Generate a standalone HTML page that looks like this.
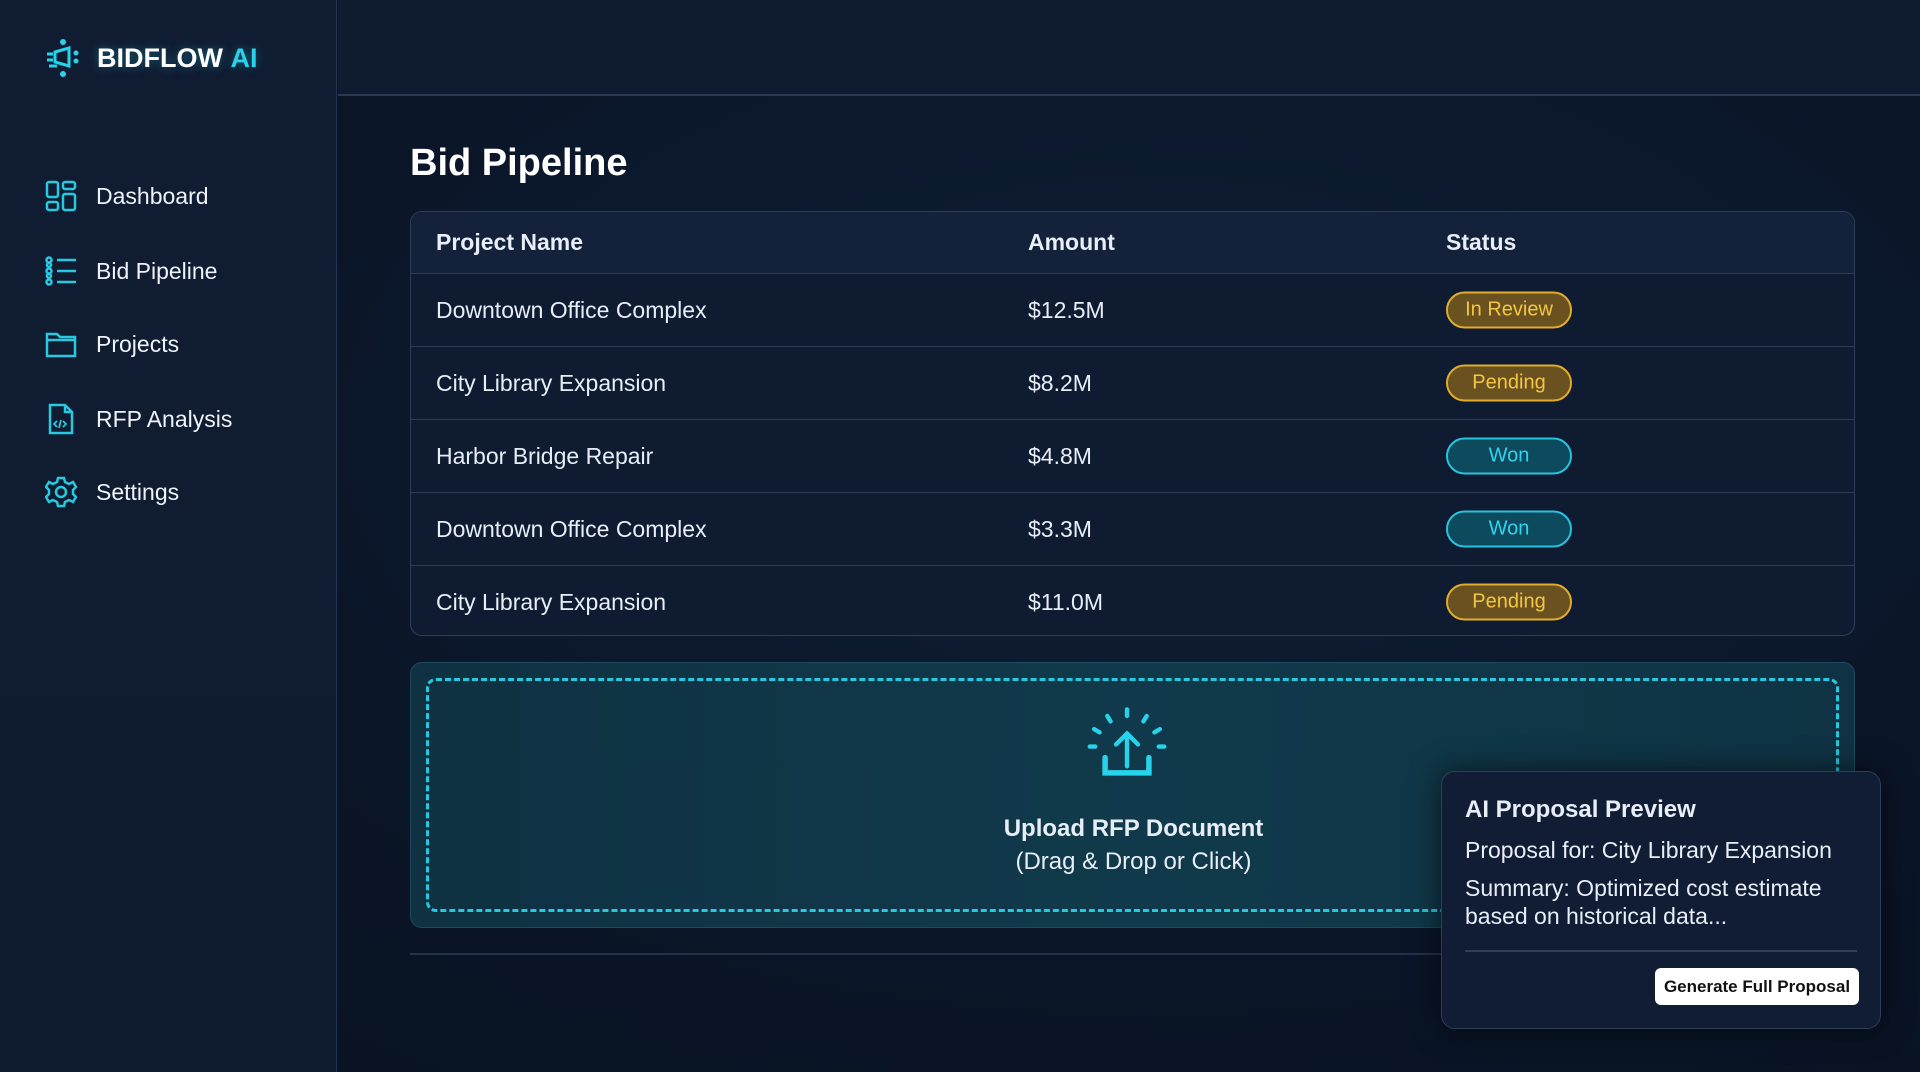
<!DOCTYPE html>
<html><head><meta charset="utf-8"><style>
*{margin:0;padding:0;box-sizing:border-box}
body{width:1920px;height:1072px;overflow:hidden;font-family:"Liberation Sans",sans-serif;color:#e8eef6;background:radial-gradient(ellipse at 60% 40%,#0f1e35 0%,#0a1527 60%,#081222 100%);position:relative}
.side{position:absolute;left:0;top:0;width:337px;height:1072px;background:linear-gradient(180deg,#101c31,#0f1b30);border-right:1px solid #25344d}
.top{position:absolute;left:338px;top:0;right:0;height:96px;background:#0f1b2f;border-bottom:2px solid #2a3a52}
.logo{position:absolute;left:45px;top:38px;display:flex;align-items:center;gap:16px;font-weight:bold;font-size:27px;color:#fff;text-shadow:0 0 10px rgba(40,200,230,.4)}
.logo b{color:#27d3ea}
.nav{position:absolute;left:45px;display:flex;align-items:center;gap:19px;font-size:23px;color:#eef3f9;transform:translateY(-50%)}
.nav svg{width:32px;height:32px}
h1{position:absolute;left:410px;top:142px;font-size:38px;font-weight:bold;color:#fff}
.tbl{position:absolute;left:410px;top:211px;width:1445px;height:425px;border:1.5px solid #2d3d57;border-radius:12px;background:#0e1b31;overflow:hidden}
.row{position:absolute;left:0;right:0;height:73px;border-top:1.5px solid #2c3c55;font-size:23px;display:flex;align-items:center}
.row span{position:absolute}
.hdr{top:0;height:61px;border-top:none;background:#13213a;font-weight:bold}
.c1{left:25px}.c2{left:617px}.c3{left:1035px}
.badge{width:126px;height:37px;border-radius:19px;display:flex;align-items:center;justify-content:center;font-size:20px;top:50%;transform:translateY(-50%)}
.y{background:#6a5220;border:2px solid #e1ac2e;color:#f3c744}
.t{background:#0d4a5e;border:2px solid #27c4de;color:#33d4ec}
.up{position:absolute;left:410px;top:662px;width:1445px;height:266px;border-radius:12px;background:linear-gradient(90deg,#0f3142,#103a4b,#0f3344);border:1.5px solid #1d4a5c}
.dash{position:absolute;left:15px;top:15px;right:15px;bottom:15px;border:3px dashed #27c9e0;border-radius:10px}
.ut{position:absolute;left:0;width:1445px;text-align:center;font-size:24px}
.card{position:absolute;left:1441px;top:771px;width:440px;height:258px;border:1.5px solid #2e3e58;border-radius:14px;background:#111d34;box-shadow:0 0 30px rgba(0,0,0,.6)}
.card p{position:absolute;left:23px;font-size:23px;color:#e8eef6}
.btn{position:absolute;left:213px;top:196px;width:204px;height:37px;background:#fff;border-radius:6px;color:#111;font-weight:bold;font-size:17px;display:flex;align-items:center;justify-content:center}
</style></head><body>
<div class="side">
<div class="logo"><svg width="36" height="40" viewBox="0 0 36 40"><g fill="none" stroke="#27d3ea" stroke-width="3"><path d="M10 14 L24 10 L24 28 L10 24 Z"/><path d="M2 16h6M2 22h6M4 28h8"/></g><circle cx="18" cy="4" r="3" fill="#27d3ea"/><circle cx="18" cy="36" r="3" fill="#27d3ea"/><circle cx="31" cy="15" r="2.5" fill="#27d3ea"/><circle cx="31" cy="23" r="2.5" fill="#27d3ea"/></svg><span>BIDFLOW <b>AI</b></span></div>
<div class="nav" style="top:196px"><svg viewBox="0 0 32 32" fill="none" stroke="#27c9e0" stroke-width="2.5"><rect x="2" y="2" width="11" height="15" rx="2"/><rect x="18" y="2" width="12" height="7" rx="2"/><rect x="2" y="22" width="11" height="8" rx="2"/><rect x="18" y="14" width="12" height="16" rx="2"/></svg>Dashboard</div>
<div class="nav" style="top:271px"><svg viewBox="0 0 32 32" fill="none" stroke="#27c9e0" stroke-width="2.5"><circle cx="4" cy="5" r="2.5"/><circle cx="4" cy="16" r="2.5"/><circle cx="4" cy="27" r="2.5"/><circle cx="4" cy="10" r="2"/><circle cx="4" cy="21" r="2"/><path d="M12 5h19M12 16h19M12 27h19"/></svg>Bid Pipeline</div>
<div class="nav" style="top:344px"><svg viewBox="0 0 32 32" fill="none" stroke="#27c9e0" stroke-width="2.5"><path d="M2 6 h10 l3 3 h15 v19 h-28 z M2 12 h28"/></svg>Projects</div>
<div class="nav" style="top:419px"><svg viewBox="0 0 32 32" fill="none" stroke="#27c9e0" stroke-width="2.5"><path d="M5 2 h15 l7 7 v21 h-22 z M20 2 v7 h7"/><path d="M12 18 l-3 3 3 3 M18 18 l3 3 -3 3 M16 17 l-2 8" stroke-width="1.8"/></svg>RFP Analysis</div>
<div class="nav" style="top:492px"><svg viewBox="0 0 32 32" fill="none" stroke="#27c9e0" stroke-width="2.5"><circle cx="16" cy="16" r="5"/><path d="M13 2h6l1 4 4 2 4-2 3 5-3 3v4l3 3-3 5-4-2-4 2-1 4h-6l-1-4-4-2-4 2-3-5 3-3v-4l-3-3 3-5 4 2 4-2z"/></svg>Settings</div>
</div>
<div class="top"></div>
<h1>Bid Pipeline</h1>
<div class="tbl">
<div class="row hdr"><span class="c1">Project Name</span><span class="c2">Amount</span><span class="c3">Status</span></div>
<div class="row" style="top:61px"><span class="c1">Downtown Office Complex</span><span class="c2">$12.5M</span><span class="c3 badge y">In Review</span></div>
<div class="row" style="top:134px"><span class="c1">City Library Expansion</span><span class="c2">$8.2M</span><span class="c3 badge y">Pending</span></div>
<div class="row" style="top:207px"><span class="c1">Harbor Bridge Repair</span><span class="c2">$4.8M</span><span class="c3 badge t">Won</span></div>
<div class="row" style="top:280px"><span class="c1">Downtown Office Complex</span><span class="c2">$3.3M</span><span class="c3 badge t">Won</span></div>
<div class="row" style="top:353px"><span class="c1">City Library Expansion</span><span class="c2">$11.0M</span><span class="c3 badge y">Pending</span></div>
</div>
<div class="up"><div class="dash"></div>
<svg style="position:absolute;left:670px;top:42px" width="92" height="92" viewBox="0 0 84 84" fill="none" stroke="#27d3ea" stroke-width="4" stroke-linecap="round"><path d="M42 4v6M24 10l3 5M60 10l-3 5M12 22l5 3M72 22l-5 3M8 38h5M71 38h5"/><path d="M42 56V26M32 36l10-10 10 10"/><path d="M22 48v14h40V48" stroke-width="5"/></svg>
<div class="ut" style="top:152px;font-weight:bold">Upload RFP Document</div>
<div class="ut" style="top:185px">(Drag &amp; Drop or Click)</div>
</div>
<div style="position:absolute;left:410px;top:953px;width:1035px;height:2px;background:#22324a"></div>
<div class="card">
<p style="top:24px;font-weight:bold;font-size:24px">AI Proposal Preview</p>
<p style="top:65px">Proposal for: City Library Expansion</p>
<p style="top:102px;line-height:28px">Summary: Optimized cost estimate<br>based on historical data...</p>
<div style="position:absolute;left:23px;right:23px;top:178px;height:1.5px;background:#2e3e58"></div>
<div class="btn">Generate Full Proposal</div>
</div>
</body></html>
